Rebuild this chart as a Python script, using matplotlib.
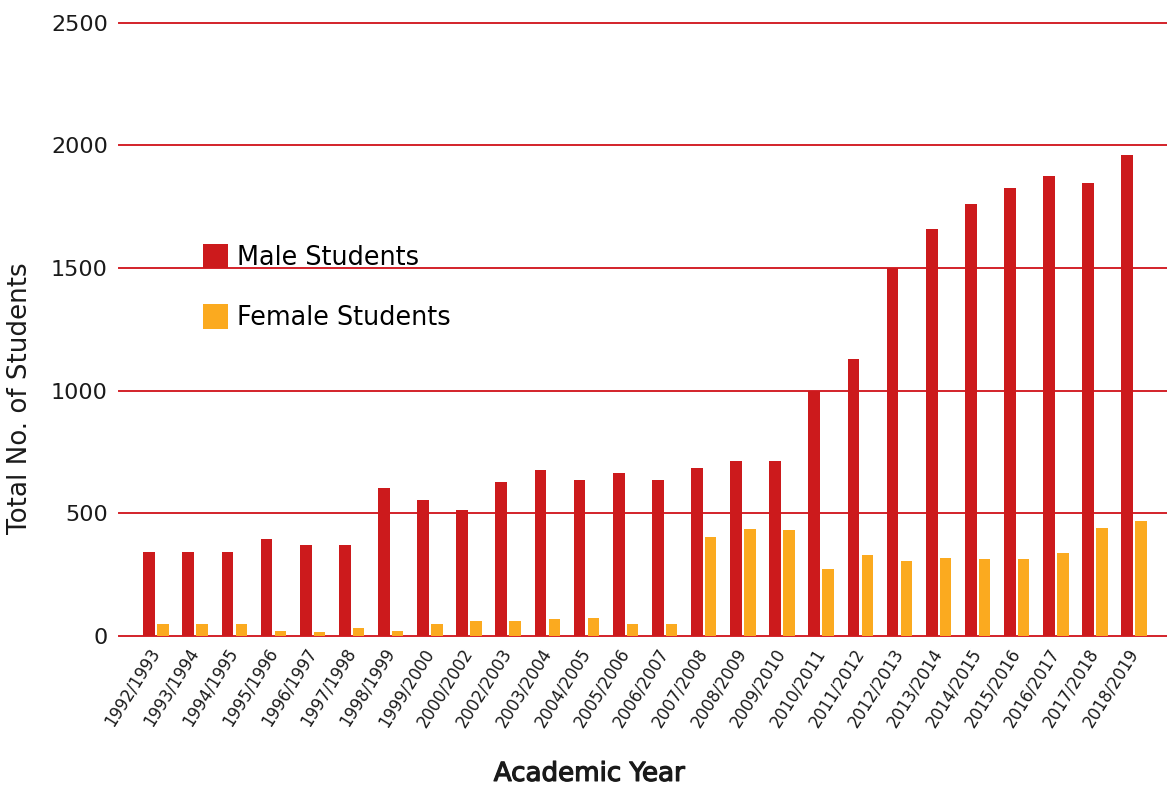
import matplotlib
matplotlib.use("Agg")
import matplotlib.pyplot as plt
import matplotlib.patheffects as pe
from matplotlib.patches import Patch
import numpy as np

# Enrolment by academic year
years = [
    "1992/1993", "1993/1994", "1994/1995", "1995/1996", "1996/1997", "1997/1998",
    "1998/1999", "1999/2000", "2000/2002", "2002/2003", "2003/2004", "2004/2005",
    "2005/2006", "2006/2007", "2007/2008", "2008/2009", "2009/2010", "2010/2011",
    "2011/2012", "2012/2013", "2013/2014", "2014/2015", "2015/2016", "2016/2017",
    "2017/2018", "2018/2019",
]
male = [343, 343, 343, 396, 371, 371, 605, 553, 514, 629, 676, 637, 666, 637,
        684, 712, 712, 999, 1131, 1501, 1659, 1762, 1826, 1874, 1847, 1962]
female = [47, 47, 47, 22, 16, 31, 22, 47, 59, 59, 67, 75, 49, 49,
          402, 437, 430, 273, 329, 306, 318, 312, 312, 336, 438, 469]
y_ticks = [0, 500, 1000, 1500, 2000, 2500]

MALE_COLOR = "#cc1a1c"
FEMALE_COLOR = "#fbaa1f"
GRID_COLOR = "#d3232a"
TEXT_COLOR = "#1a1a1a"

plt.rcParams["font.family"] = ["DejaVu Sans"]

fig = plt.figure(figsize=(11.67, 7.87), dpi=100)
ax = fig.add_axes([0.102, 0.192, 0.898, 0.779])

x = np.arange(len(years))
ax.bar(x - 0.175, male, width=0.30, color=MALE_COLOR, zorder=3)
ax.bar(x + 0.178, female, width=0.29, color=FEMALE_COLOR, zorder=3)

ax.set_ylim(0, 2500)
ax.set_xlim(-0.945, 25.84)
ax.set_yticks(y_ticks)
ax.set_yticklabels([str(v) for v in y_ticks], fontsize=16, color=TEXT_COLOR)
ax.set_xticks(x)
ax.set_xticklabels(years, rotation=58, ha="right", va="center",
                   rotation_mode="anchor", fontsize=11.9, color=TEXT_COLOR)
ax.tick_params(axis="both", length=0)
ax.tick_params(axis="y", pad=8)
ax.tick_params(axis="x", pad=10)

for s in ax.spines.values():
    s.set_visible(False)
ax.yaxis.grid(True, color=GRID_COLOR, linewidth=1.4, zorder=0)
for gl in ax.get_ygridlines():
    gl.set_clip_on(False)
ax.set_axisbelow(True)

ax.set_ylabel("Total No. of Students", fontsize=18.8, color=TEXT_COLOR)
ax.yaxis.set_label_coords(-0.082, 0.387)

ax.set_xlabel("Academic Year", fontsize=18.8, color=TEXT_COLOR,
              path_effects=[pe.withStroke(linewidth=0.9, foreground=TEXT_COLOR)])
ax.xaxis.label.set_va("baseline")
ax.xaxis.set_label_coords(0.449, -0.2365)

handles = [Patch(facecolor=MALE_COLOR, label="Male Students"),
           Patch(facecolor=FEMALE_COLOR, label="Female Students")]
ax.legend(handles=handles, loc="upper left", bbox_to_anchor=(0.080, 0.640),
          frameon=False, fontsize=18.4, handlelength=0.977, handleheight=1.126,
          handletextpad=0.35, labelspacing=1.3, borderaxespad=0,
          borderpad=0)

fig.savefig("out.png", dpi=100, facecolor="white")
